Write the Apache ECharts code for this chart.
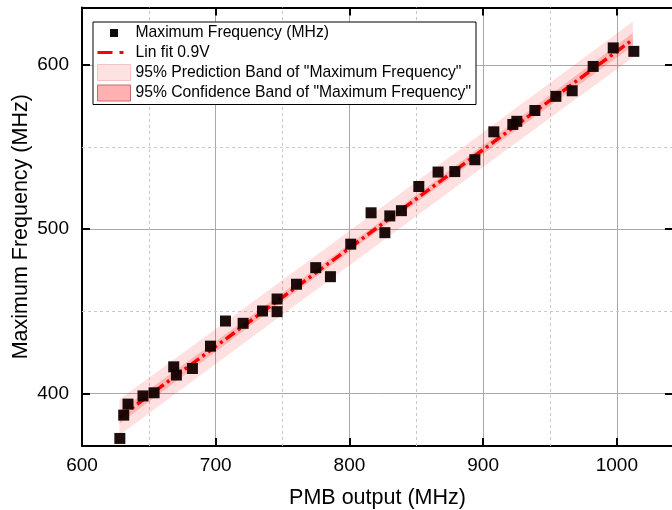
<!DOCTYPE html>
<html>
<head>
<meta charset="utf-8">
<script src="https://cdn.jsdelivr.net/npm/echarts@6/dist/echarts.min.js"></script>
<style>
  html, body { margin: 0; padding: 0; background: #fff; }
  #chart { width: 672px; height: 510px; }
</style>
</head>
<body>
<div id="chart"></div>
<script>
// measured points (PMB output vs. maximum frequency, MHz)
const pmbOutput = [628.3, 631.2, 634.4, 645.6, 653.9, 668.6, 670.6, 682.6, 696.1, 707.3, 720.5, 735.0,
  745.9, 745.9, 760.4, 774.8, 785.8, 801.0, 816.2, 826.5, 830.2, 838.9, 851.9, 866.3, 878.8, 893.8,
  908.0, 922.2, 925.2, 938.7, 954.4, 966.6, 982.3, 997.3, 1012.7];
const maxFreq = [372.6, 386.8, 393.5, 398.5, 400.4, 416.2, 411.2, 415.2, 428.8, 444.1, 442.7, 450.2,
  457.5, 449.8, 466.5, 476.6, 471.1, 490.9, 510.0, 497.9, 508.1, 511.3, 526.0, 534.8, 535.1, 542.3,
  559.3, 563.8, 565.7, 572.3, 580.9, 584.3, 599.1, 610.4, 608.3];

// linear fit end points
const fitX = [628, 1012];
const fitY = [385.5, 615.5];

const bandX = [628, 724, 820, 916, 1012];
const predUpper = [396.5, 453.6, 511.0, 568.6, 626.5];
const predLower = [374.5, 432.4, 490.0, 547.4, 604.5];
const confUpper = [389.5, 445.8, 502.7, 560.8, 619.5];
const confLower = [381.5, 440.2, 498.3, 555.2, 611.5];

// grid lines
const xMinorGrid = [650, 750, 850, 950];
const yMinorGrid = [450, 550];

const FONT = "'Liberation Sans', Arial, sans-serif";

function bandRenderer(upper, lower, fill) {
  return function (params, api) {
    if (params.dataIndex !== 0) return null;
    const top = bandX.map((x, i) => api.coord([x, upper[i]]));
    const bottom = bandX.map((x, i) => api.coord([x, lower[i]])).reverse();
    return {
      type: "polygon",
      shape: { points: top.concat(bottom) },
      style: { fill: fill },
      silent: true,
    };
  };
}

const xBase = {
  type: "value",
  min: 600,
  max: 1042,
  interval: 100,
};
const yBase = {
  type: "value",
  min: 368,
  max: 635,
  splitNumber: 3,
};

const chart = echarts.init(document.getElementById("chart"), null, { renderer: "canvas" });

const option = {
  animation: false,
  backgroundColor: "#fff",
  textStyle: { fontFamily: FONT },
  grid: {
    left: 82,
    right: -1,
    top: 7.5,
    bottom: 64,
    containLabel: false,
    outerBoundsMode: "none",
  },
  legend: {
    left: 93,
    top: 22,
    orient: "vertical",
    selectedMode: false,
    backgroundColor: "#fff",
    borderColor: "#000",
    borderWidth: 1,
    borderRadius: 0,
    padding: [3, 5, 3, 4],
    itemWidth: 33,
    itemHeight: 16,
    itemGap: 3.5,
    textStyle: { fontFamily: FONT, fontSize: 15.7, color: "#000" },
    data: [
      {
        name: "Maximum Frequency (MHz)",
        icon: "path://M12.5,4h8v8h-8z M0,0 M33,16",
        itemStyle: { color: "#000", borderWidth: 0 },
      },
      {
        name: "Lin fit 0.9V",
        icon: "path://M0,6.5h15v3h-15z M22,6.5h4v3h-4z M0,0 M33,16",
        itemStyle: { color: "#ff0000", borderWidth: 0 },
      },
      {
        name: '95% Prediction Band of "Maximum Frequency"',
        icon: "rect",
        itemStyle: { color: "#fde2e2", borderColor: "#f2c4c4", borderWidth: 1 },
      },
      {
        name: '95% Confidence Band of "Maximum Frequency"',
        icon: "rect",
        itemStyle: { color: "#ffb1b1", borderColor: "#c86a6a", borderWidth: 1 },
      },
    ],
  },
  xAxis: [
    Object.assign({}, xBase, {
      position: "bottom",
      name: "PMB output (MHz)",
      nameLocation: "middle",
      nameGap: 41,
      nameMoveOverlap: false,
      nameTextStyle: { fontFamily: FONT, fontSize: 21.5, color: "#000" },
      axisLine: { lineStyle: { color: "#000", width: 2 } },
      axisTick: { inside: true, length: 8, lineStyle: { color: "#000", width: 2 } },
      axisLabel: {
        fontFamily: FONT,
        fontSize: 19,
        color: "#000",
        margin: 10,
        showMaxLabel: false,
        formatter: (v) => String(v),
      },
      splitLine: { show: true, lineStyle: { color: "#a8a8a8", width: 1 } },
    }),
    Object.assign({}, xBase, {
      position: "top",
      axisLine: { lineStyle: { color: "#000", width: 2 } },
      axisTick: { inside: true, length: 8, lineStyle: { color: "#000", width: 2 } },
      axisLabel: { show: false },
      splitLine: { show: false },
    }),
  ],
  yAxis: [
    Object.assign({}, yBase, {
      position: "left",
      name: "Maximum Frequency (MHz)",
      nameLocation: "middle",
      nameGap: 50,
      nameMoveOverlap: false,
      nameTextStyle: { fontFamily: FONT, fontSize: 21.5, color: "#000" },
      axisLine: { show: true, lineStyle: { color: "#000", width: 2 } },
      axisTick: { show: true, inside: true, length: 8, lineStyle: { color: "#000", width: 2 } },
      axisLabel: {
        fontFamily: FONT,
        fontSize: 19,
        color: "#000",
        margin: 13,
        showMinLabel: false,
        showMaxLabel: false,
        formatter: (v) => String(v),
      },
      splitLine: { show: true, lineStyle: { color: "#a8a8a8", width: 1 } },
    }),
    Object.assign({}, yBase, {
      position: "right",
      axisLine: { show: true, lineStyle: { color: "#000", width: 2 } },
      axisTick: { show: true, inside: true, length: 8, lineStyle: { color: "#000", width: 2 } },
      axisLabel: { show: false },
      splitLine: { show: false },
    }),
  ],
  series: [
    {
      name: '95% Prediction Band of "Maximum Frequency"',
      type: "custom",
      z: 2,
      itemStyle: { color: "#fde2e2" },
      data: bandX.map((x, i) => [x, predUpper[i], predLower[i]]),
      encode: { x: 0, y: [1, 2] },
      renderItem: bandRenderer(predUpper, predLower, "rgba(255,0,0,0.12)"),
    },
    {
      name: '95% Confidence Band of "Maximum Frequency"',
      type: "custom",
      z: 2,
      itemStyle: { color: "#ffb1b1" },
      data: bandX.map((x, i) => [x, confUpper[i], confLower[i]]),
      encode: { x: 0, y: [1, 2] },
      renderItem: bandRenderer(confUpper, confLower, "rgba(255,0,0,0.2)"),
    },
    {
      name: "Lin fit 0.9V",
      type: "line",
      z: 3,
      showSymbol: false,
      data: fitX.map((x, i) => [x, fitY[i]]),
      lineStyle: { color: "#ff0000", width: 3.5, type: [11, 4, 3, 4], cap: "butt" },
      itemStyle: { color: "#ff0000" },
      markLine: {
        silent: true,
        z: 1,
        symbol: "none",
        label: { show: false },
        lineStyle: { color: "#c8c8c8", width: 1, type: [3, 3] },
        data: xMinorGrid.map((v) => ({ xAxis: v })).concat(yMinorGrid.map((v) => ({ yAxis: v }))),
      },
    },
    {
      name: "Maximum Frequency (MHz)",
      type: "scatter",
      z: 4,
      symbol: "rect",
      symbolSize: 11,
      itemStyle: { color: "#120000", opacity: 0.95 },
      data: pmbOutput.map((x, i) => [x, maxFreq[i]]),
    },
  ],
};

chart.setOption(option);
</script>
</body>
</html>
